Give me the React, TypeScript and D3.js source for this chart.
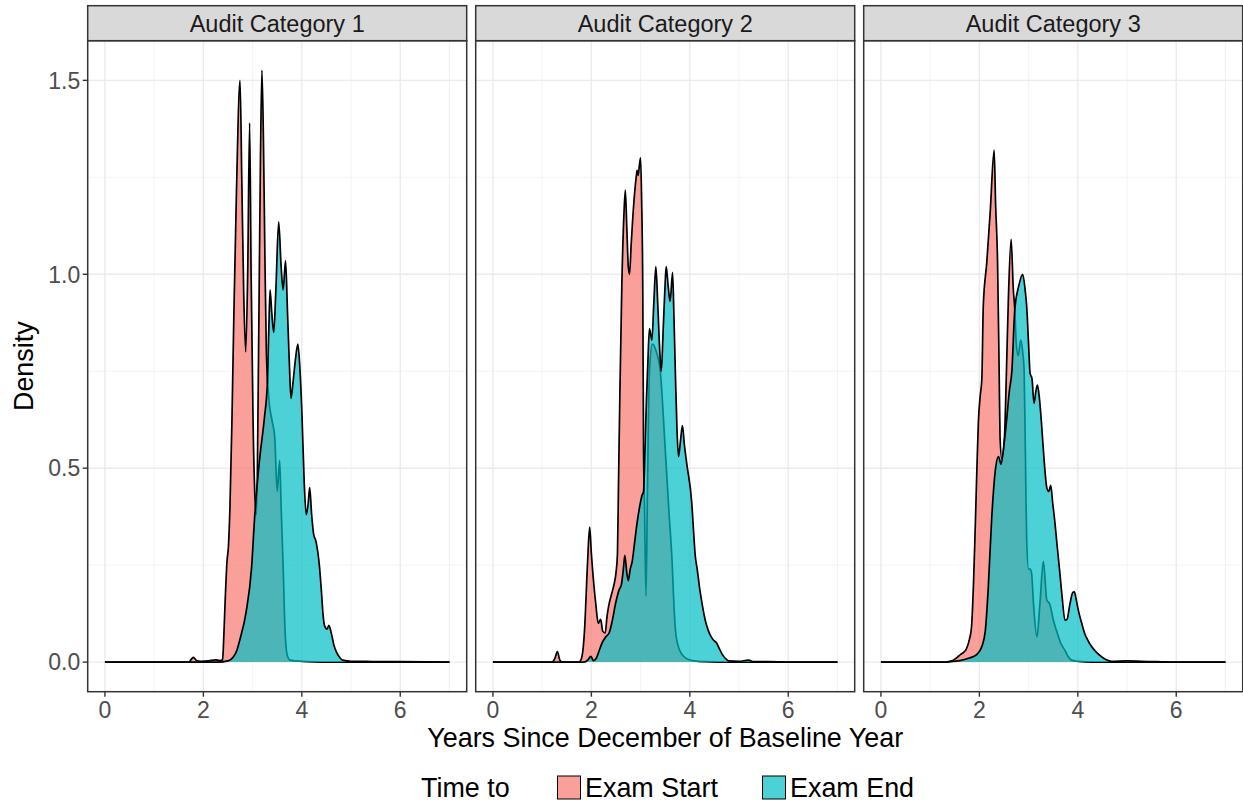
import React from "react";
import * as d3 from "d3";

// Facet titles, series and ticks
const panelTitles = ["Audit Category 1", "Audit Category 2", "Audit Category 3"];
const seriesNames = ["Exam Start", "Exam End"];
const seriesFills = ["#F8766D", "#00BFC4"];
const xTicks = [0, 2, 4, 6];
const xMinorTicks = [1, 3, 5, 7];
const yTicks = [0, 0.5, 1.0, 1.5];
const yMinorTicks = [0.25, 0.75, 1.25];
const xDataRange = [0, 7];

type Pt = [number, number];

// Density estimates: [years, density]
const examStart1: Pt[] = [
  [0, 0], [1.7, 0], [1.76, 0.008], [1.8, 0.012], [1.86, 0.004], [1.95, 0.002], [2.1, 0.003],
  [2.25, 0.006], [2.33, 0.004], [2.39, 0.006], [2.41, 0.05], [2.44, 0.15], [2.48, 0.26],
  [2.51, 0.3], [2.54, 0.4], [2.58, 0.62], [2.62, 0.9], [2.67, 1.2], [2.745, 1.5], [2.78, 1.25],
  [2.82, 0.95], [2.86, 0.8], [2.9, 1.0], [2.94, 1.39], [2.97, 1.0], [3.01, 0.62], [3.05, 0.42],
  [3.08, 0.38], [3.12, 0.78], [3.16, 1.3], [3.19, 1.526], [3.22, 1.35], [3.25, 1.05],
  [3.28, 0.8], [3.33, 0.68], [3.4, 0.62], [3.45, 0.58], [3.5, 0.44], [3.55, 0.52],
  [3.58, 0.4], [3.62, 0.25], [3.66, 0.08], [3.7, 0.02], [3.76, 0.005], [3.9, 0.003],
  [4.1, 0.001], [4.4, 0], [7, 0],
];

const examEnd1: Pt[] = [
  [0, 0], [2.3, 0], [2.5, 0.003], [2.6, 0.012], [2.68, 0.03], [2.74, 0.057], [2.87, 0.13],
  [2.98, 0.245], [3.04, 0.37], [3.14, 0.52], [3.24, 0.63], [3.3, 0.72], [3.33, 0.86],
  [3.355, 0.96], [3.39, 0.9], [3.43, 0.85], [3.47, 0.95], [3.53, 1.135], [3.58, 1.02],
  [3.62, 0.96], [3.67, 1.035], [3.71, 0.9], [3.75, 0.76], [3.78, 0.68], [3.82, 0.72],
  [3.87, 0.78], [3.92, 0.82], [3.96, 0.76], [4.0, 0.65], [4.05, 0.46], [4.09, 0.38],
  [4.13, 0.41], [4.16, 0.45], [4.2, 0.38], [4.24, 0.33], [4.29, 0.31], [4.36, 0.245],
  [4.4, 0.18], [4.43, 0.125], [4.46, 0.095], [4.51, 0.085], [4.55, 0.095], [4.6, 0.074],
  [4.65, 0.045], [4.7, 0.027], [4.77, 0.012], [4.83, 0.005], [5.0, 0.002], [5.3, 0.002],
  [5.6, 0.001], [6.0, 0.001], [7, 0],
];

const examStart2: Pt[] = [
  [0, 0], [1.2, 0], [1.26, 0.01], [1.31, 0.027], [1.36, 0.005], [1.42, 0], [1.75, 0],
  [1.8, 0.01], [1.86, 0.08], [1.92, 0.25], [1.965, 0.348], [2.0, 0.28], [2.05, 0.2],
  [2.09, 0.15], [2.14, 0.1], [2.19, 0.11], [2.23, 0.08], [2.28, 0.075], [2.32, 0.12],
  [2.36, 0.15], [2.42, 0.18], [2.46, 0.2], [2.5, 0.23], [2.53, 0.28], [2.55, 0.45],
  [2.58, 0.7], [2.62, 0.98], [2.66, 1.15], [2.69, 1.217], [2.72, 1.12], [2.75, 1.02],
  [2.775, 1.0], [2.81, 1.08], [2.86, 1.18], [2.91, 1.25], [2.93, 1.268], [2.95, 1.255],
  [2.975, 1.28], [3.0, 1.3], [3.02, 1.2], [3.045, 0.95], [3.06, 0.55], [3.08, 0.4],
  [3.11, 0.17], [3.14, 0.45], [3.18, 0.75], [3.24, 0.82], [3.32, 0.8], [3.4, 0.75],
  [3.5, 0.55], [3.58, 0.38], [3.64, 0.26], [3.68, 0.14], [3.71, 0.08], [3.78, 0.035],
  [3.84, 0.02], [3.95, 0.008], [4.1, 0.003], [4.3, 0.001], [4.6, 0], [7, 0],
];

const examEnd2: Pt[] = [
  [0, 0], [1.85, 0], [1.93, 0.006], [1.99, 0.015], [2.04, 0.004], [2.1, 0.01], [2.16, 0.03],
  [2.22, 0.05], [2.29, 0.065], [2.36, 0.075], [2.43, 0.11], [2.49, 0.15], [2.56, 0.185],
  [2.61, 0.2], [2.65, 0.24], [2.68, 0.275], [2.72, 0.23], [2.75, 0.21], [2.79, 0.24],
  [2.83, 0.26], [2.88, 0.31], [2.93, 0.36], [2.98, 0.4], [3.03, 0.43], [3.06, 0.44],
  [3.09, 0.55], [3.12, 0.68], [3.15, 0.78], [3.18, 0.86], [3.23, 0.83], [3.27, 0.93],
  [3.31, 1.02], [3.35, 0.92], [3.39, 0.8], [3.42, 0.75], [3.46, 0.86], [3.5, 0.98],
  [3.52, 1.02], [3.56, 0.97], [3.6, 0.93], [3.65, 1.005], [3.68, 0.88], [3.71, 0.73],
  [3.74, 0.6], [3.77, 0.53], [3.81, 0.57], [3.85, 0.61], [3.89, 0.56], [3.94, 0.51],
  [4.04, 0.41], [4.08, 0.33], [4.11, 0.275], [4.15, 0.24], [4.2, 0.19], [4.25, 0.15],
  [4.31, 0.11], [4.38, 0.08], [4.46, 0.06], [4.55, 0.048], [4.6, 0.035], [4.65, 0.022],
  [4.72, 0.01], [4.79, 0.003], [5.0, 0.002], [5.19, 0.005], [5.3, 0.001], [5.6, 0.001],
  [6.0, 0], [7, 0],
];

const examStart3: Pt[] = [
  [0, 0], [1.3, 0], [1.4, 0.002], [1.47, 0.005], [1.55, 0.012], [1.62, 0.02], [1.68, 0.025],
  [1.74, 0.035], [1.8, 0.06], [1.84, 0.09], [1.88, 0.2], [1.91, 0.32], [1.95, 0.5],
  [1.98, 0.62], [2.02, 0.69], [2.05, 0.73], [2.08, 0.92], [2.15, 1.03], [2.22, 1.16],
  [2.3, 1.32], [2.33, 1.18], [2.37, 1.03], [2.4, 0.77], [2.42, 0.58], [2.455, 0.525],
  [2.51, 0.58], [2.55, 0.75], [2.59, 0.94], [2.645, 1.09], [2.69, 0.96], [2.72, 0.91],
  [2.75, 0.82], [2.79, 0.79], [2.84, 0.83], [2.88, 0.8], [2.91, 0.75], [2.94, 0.49],
  [2.96, 0.32], [3.0, 0.24], [3.03, 0.24], [3.06, 0.23], [3.1, 0.15], [3.17, 0.065],
  [3.23, 0.15], [3.3, 0.26], [3.37, 0.16], [3.43, 0.15], [3.5, 0.11], [3.57, 0.08],
  [3.65, 0.05], [3.74, 0.03], [3.8, 0.015], [3.87, 0.005], [4.0, 0.002], [4.3, 0], [7, 0],
];

const examEnd3: Pt[] = [
  [0, 0], [1.3, 0], [1.41, 0.001], [1.6, 0.004], [1.78, 0.01], [1.95, 0.02], [2.05, 0.04],
  [2.12, 0.08], [2.18, 0.19], [2.25, 0.37], [2.32, 0.49], [2.39, 0.53], [2.44, 0.51],
  [2.5, 0.56], [2.55, 0.62], [2.61, 0.7], [2.66, 0.75], [2.72, 0.91], [2.8, 0.97],
  [2.88, 1.0], [2.93, 0.96], [2.96, 0.92], [3.0, 0.82], [3.03, 0.745], [3.07, 0.73],
  [3.11, 0.667], [3.15, 0.7], [3.18, 0.714], [3.22, 0.68], [3.26, 0.62], [3.31, 0.53],
  [3.37, 0.45], [3.41, 0.44], [3.45, 0.456], [3.49, 0.41], [3.53, 0.366], [3.58, 0.3],
  [3.63, 0.237], [3.68, 0.17], [3.74, 0.108], [3.78, 0.11], [3.84, 0.15], [3.9, 0.18],
  [3.93, 0.181], [3.97, 0.16], [4.01, 0.134], [4.08, 0.1], [4.14, 0.074], [4.21, 0.055],
  [4.28, 0.04], [4.38, 0.025], [4.48, 0.014], [4.58, 0.006], [4.68, 0.002], [5.0, 0.003],
  [5.3, 0.002], [5.6, 0.001], [6.0, 0], [7, 0],
];

const panelSeries: Pt[][][] = [
  [examStart1, examEnd1],
  [examStart2, examEnd2],
  [examStart3, examEnd3],
];

// Layout
const WIDTH = 1243;
const HEIGHT = 805;
const PANEL_LEFT = 87.7;
const PANEL_W = 379;
const PANEL_GAP = 9;
const STRIP_TOP = 5.7;
const PANEL_TOP = 40.7;
const PANEL_BOTTOM = 691.7;
const FONT = "'Liberation Sans', Arial, Helvetica, sans-serif";
const FILL_ALPHA = 0.7;
const TICK_FONT = 23;
const TITLE_FONT = 26.9;

const xPad = (xDataRange[1] - xDataRange[0]) * 0.05;
const yMax = d3.max(panelSeries.flat(2), (d) => d[1]) as number;
const yPad = yMax * 0.05;

const yScale = d3
  .scaleLinear()
  .domain([-yPad, yMax + yPad])
  .range([PANEL_BOTTOM, PANEL_TOP]);

function panelX(i: number) {
  const left = PANEL_LEFT + i * (PANEL_W + PANEL_GAP);
  return d3
    .scaleLinear()
    .domain([xDataRange[0] - xPad, xDataRange[1] + xPad])
    .range([left, left + PANEL_W]);
}

const yFmt = d3.format(".1f");

function Panel({ index }: { index: number }) {
  const x = panelX(index);
  const [x0, x1] = x.range();
  const area = d3
    .area<Pt>()
    .x((d) => x(d[0]))
    .y0(yScale(0))
    .y1((d) => yScale(d[1]))
    .curve(d3.curveMonotoneX);
  const line = d3
    .line<Pt>()
    .x((d) => x(d[0]))
    .y((d) => yScale(d[1]))
    .curve(d3.curveMonotoneX);
  const clipId = `clip-${index}`;

  return (
    <g>
      <defs>
        <clipPath id={clipId}>
          <rect x={x0} y={PANEL_TOP} width={x1 - x0} height={PANEL_BOTTOM - PANEL_TOP} />
        </clipPath>
      </defs>
      <rect x={x0} y={PANEL_TOP} width={x1 - x0} height={PANEL_BOTTOM - PANEL_TOP} fill="#FFFFFF" />
      {/* minor grid */}
      {xMinorTicks.map((t) => (
        <line key={`xm${t}`} x1={x(t)} x2={x(t)} y1={PANEL_TOP} y2={PANEL_BOTTOM} stroke="#F0F0F0" strokeWidth={0.8} />
      ))}
      {yMinorTicks.map((t) => (
        <line key={`ym${t}`} x1={x0} x2={x1} y1={yScale(t)} y2={yScale(t)} stroke="#F0F0F0" strokeWidth={0.8} />
      ))}
      {/* major grid */}
      {xTicks.map((t) => (
        <line key={`xg${t}`} x1={x(t)} x2={x(t)} y1={PANEL_TOP} y2={PANEL_BOTTOM} stroke="#EBEBEB" strokeWidth={1.4} />
      ))}
      {yTicks.map((t) => (
        <line key={`yg${t}`} x1={x0} x2={x1} y1={yScale(t)} y2={yScale(t)} stroke="#EBEBEB" strokeWidth={1.4} />
      ))}
      <g clipPath={`url(#${clipId})`}>
        {panelSeries[index].map((data, s) => (
          <g key={s}>
            <path d={area(data) || ""} fill={seriesFills[s]} fillOpacity={FILL_ALPHA} stroke="none" />
            <path d={line(data) || ""} fill="none" stroke="#000000" strokeWidth={1.7} strokeLinejoin="round" />
          </g>
        ))}
      </g>
      <rect x={x0} y={PANEL_TOP} width={x1 - x0} height={PANEL_BOTTOM - PANEL_TOP} fill="none" stroke="#333333" strokeWidth={1.5} />
      {/* strip */}
      <rect x={x0} y={STRIP_TOP} width={x1 - x0} height={PANEL_TOP - STRIP_TOP} fill="#D9D9D9" stroke="#333333" strokeWidth={1.5} />
      <text
        x={(x0 + x1) / 2}
        y={(STRIP_TOP + PANEL_TOP) / 2 + 8.4}
        textAnchor="middle"
        fontFamily={FONT}
        fontSize={23.5}
        fill="#1A1A1A"
      >
        {panelTitles[index]}
      </text>
      {/* x axis */}
      {xTicks.map((t) => (
        <g key={`xt${t}`}>
          <line x1={x(t)} x2={x(t)} y1={PANEL_BOTTOM} y2={PANEL_BOTTOM + 5} stroke="#333333" strokeWidth={1.4} />
          <text x={x(t)} y={PANEL_BOTTOM + 26} textAnchor="middle" fontFamily={FONT} fontSize={TICK_FONT} fill="#4D4D4D">
            {t}
          </text>
        </g>
      ))}
    </g>
  );
}

export default function App() {
  const legendY = 787.5;
  const keySize = 24;
  return (
    <div style={{ position: "absolute", left: 0, top: 0 }}>
      <svg width={WIDTH} height={HEIGHT} viewBox={`0 0 ${WIDTH} ${HEIGHT}`} style={{ display: "block", background: "#FFFFFF" }}>
        <rect x={0} y={0} width={WIDTH} height={HEIGHT} fill="#FFFFFF" />
        {panelTitles.map((_, i) => (
          <Panel key={i} index={i} />
        ))}
        {/* y axis on the first panel */}
        {yTicks.map((t) => (
          <g key={`yt${t}`}>
            <line x1={PANEL_LEFT - 5} x2={PANEL_LEFT} y1={yScale(t)} y2={yScale(t)} stroke="#333333" strokeWidth={1.4} />
            <text x={PANEL_LEFT - 7.5} y={yScale(t) + 8.3} textAnchor="end" fontFamily={FONT} fontSize={TICK_FONT} fill="#4D4D4D">
              {yFmt(t)}
            </text>
          </g>
        ))}
        <text
          transform={`translate(32.5, ${(PANEL_TOP + PANEL_BOTTOM) / 2}) rotate(-90)`}
          textAnchor="middle"
          fontFamily={FONT}
          fontSize={TITLE_FONT}
          fill="#000000"
        >
          Density
        </text>
        <text
          x={(PANEL_LEFT + PANEL_LEFT + 3 * PANEL_W + 2 * PANEL_GAP) / 2}
          y={747}
          textAnchor="middle"
          fontFamily={FONT}
          fontSize={TITLE_FONT}
          fill="#000000"
        >
          Years Since December of Baseline Year
        </text>
        {/* legend */}
        <text x={421} y={legendY + 9.7} fontFamily={FONT} fontSize={TITLE_FONT} fill="#000000">
          Time to
        </text>
        {seriesNames.map((name, s) => {
          const kx = s === 0 ? 557 : 762;
          return (
            <g key={name}>
              <rect x={kx} y={legendY - keySize / 2} width={keySize} height={keySize} fill="#FFFFFF" />
              <rect
                x={kx + 0.5}
                y={legendY - keySize / 2 + 0.5}
                width={keySize - 1}
                height={keySize - 1}
                fill={seriesFills[s]}
                fillOpacity={FILL_ALPHA}
                stroke="#000000"
                strokeWidth={1}
              />
              <text x={kx + keySize + 4} y={legendY + 9.7} fontFamily={FONT} fontSize={TITLE_FONT} fill="#000000">
                {name}
              </text>
            </g>
          );
        })}
      </svg>
    </div>
  );
}
